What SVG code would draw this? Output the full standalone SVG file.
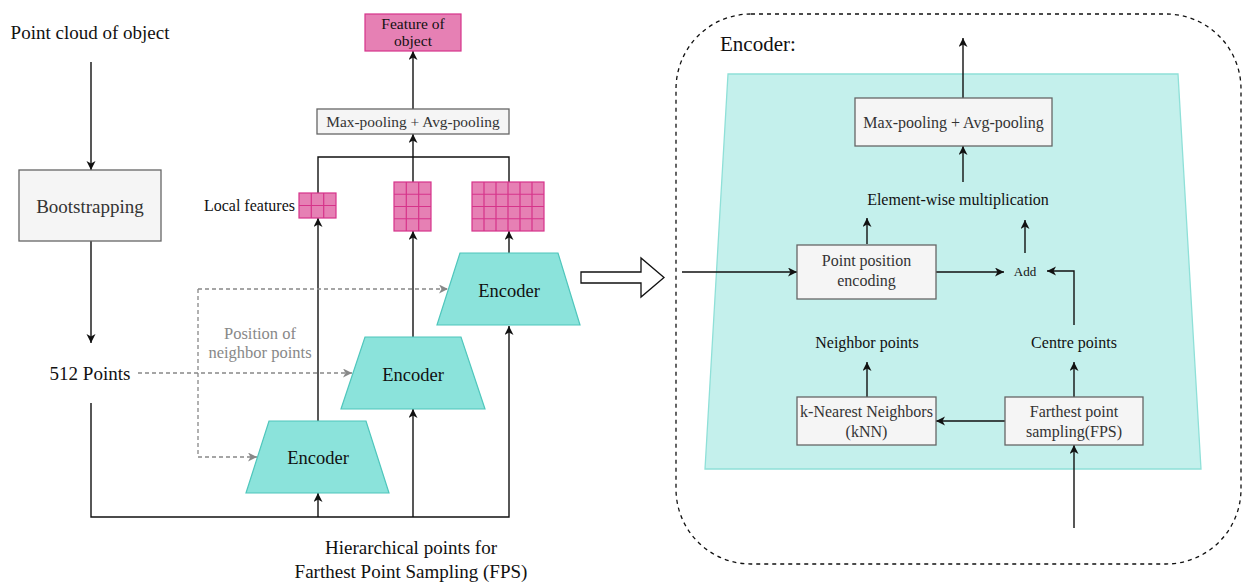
<svg xmlns="http://www.w3.org/2000/svg" width="1242" height="583" viewBox="0 0 1242 583">
<style>
text{font-family:"Liberation Serif","Times New Roman",serif;fill:#111}
.c{text-anchor:middle}
.gt{fill:#333}
.box{fill:#f5f5f5;stroke:#666;stroke-width:1.3}
.enc{fill:#8be3db;stroke:#4fc6bc;stroke-width:1.2}
.pink{fill:#e680b4;stroke:#d6338a;stroke-width:1.2}
.ln{fill:none;stroke:#111;stroke-width:1.4}
.ar{fill:none;stroke:#111;stroke-width:1.4;marker-end:url(#ah)}
.da{fill:none;stroke:#888;stroke-width:1.3;stroke-dasharray:4 3;marker-end:url(#ahg)}
</style>
<defs>
<marker id="ah" markerUnits="userSpaceOnUse" markerWidth="10" markerHeight="10" refX="9" refY="4.5" orient="auto">
<path d="M0,0 L9,4.5 L0,9 L2.5,4.5 Z" fill="#111"/>
</marker>
<marker id="ahg" markerUnits="userSpaceOnUse" markerWidth="10" markerHeight="10" refX="9" refY="4.5" orient="auto">
<path d="M0,0 L9,4.5 L0,9 L2.5,4.5 Z" fill="#888"/>
</marker>
</defs>

<g id="encoder-panel">
<rect x="676" y="14" width="565" height="550" rx="75" ry="75" fill="none" stroke="#111" stroke-width="1.3" stroke-dasharray="4 4"/>
<polygon points="728,74 1178,74 1201,469 705,469" fill="#c4f0ec" stroke="#8fe0d8" stroke-width="1.3"/>
<text x="720" y="51" font-size="21">Encoder:</text>
</g>

<g id="connectors">
<path class="ar" d="M91,62 V170"/>
<path class="ar" d="M91,241 V343"/>
<path class="ar" d="M91,403 V517 H509 V326"/>
<path class="ar" d="M318,517 V493"/>
<path class="ar" d="M413,517 V409"/>
<path class="ar" d="M318,421 V218"/>
<path class="ar" d="M413,337 V231"/>
<path class="ar" d="M509,253 V231"/>
<path class="ln" d="M318,193 V157 H509 V182"/>
<path class="ln" d="M413,182 V157"/>
<path class="ar" d="M413,157 V134"/>
<path class="ar" d="M413,109 V51"/>
<path class="da" d="M138,373 H352"/>
<path class="da" d="M198,289 V457 H257"/>
<path class="da" d="M198,289 H448"/>
<polygon points="581,272 641,272 641,258 664,277.5 641,297 641,283 581,283" fill="#fff" stroke="#111" stroke-width="1.3"/>
<path class="ar" d="M963,98 V38"/>
<path class="ar" d="M963,182 V146"/>
<path class="ar" d="M867,244 V218"/>
<path class="ar" d="M1025,253 V220"/>
<path class="ar" d="M682,272 H797"/>
<path class="ar" d="M936,272 H1004"/>
<path class="ar" d="M1074,325 V271 H1047"/>
<path class="ar" d="M867,397 V362"/>
<path class="ar" d="M1074,397 V362"/>
<path class="ar" d="M1005,421 H936"/>
<path class="ar" d="M1074,528 V445"/>
</g>

<g id="point-cloud"><text x="90" y="39" font-size="19" class="c">Point cloud of object</text></g>

<g id="bootstrapping">
<rect class="box" x="19" y="170" width="142" height="71"/>
<text x="90" y="213" font-size="19" class="c gt">Bootstrapping</text>
</g>

<g id="points512"><text x="90" y="380" font-size="19" class="c">512 Points</text></g>

<g id="hierarchical">
<text x="411" y="554" font-size="19" class="c">Hierarchical points for</text>
<text x="411" y="578" font-size="19" class="c">Farthest Point Sampling (FPS)</text>
</g>

<g id="position-label">
<text x="260" y="339" font-size="16.5" class="c" style="fill:#888">Position of</text>
<text x="260" y="358" font-size="16.5" class="c" style="fill:#888">neighbor points</text>
</g>

<g id="encoder1">
<polygon class="enc" points="269,421 366,421 389,493 246,493"/>
<text x="318" y="464" font-size="18.5" class="c">Encoder</text>
</g>
<g id="encoder2">
<polygon class="enc" points="365,337 461,337 485,409 341,409"/>
<text x="413" y="381" font-size="18.5" class="c">Encoder</text>
</g>
<g id="encoder3">
<polygon class="enc" points="460,253 558,253 580,325 437,325"/>
<text x="509" y="297" font-size="18.5" class="c">Encoder</text>
</g>

<g id="local-features-label"><text x="295" y="211" font-size="16" text-anchor="end">Local features</text></g>

<g id="grid1">
<rect class="pink" x="299" y="193" width="37" height="25"/>
<path class="pink" fill="none" d="M311.3,193 V218 M323.7,193 V218 M299,205.5 H336"/>
</g>
<g id="grid2">
<rect class="pink" x="394" y="182" width="37" height="49"/>
<path class="pink" fill="none" d="M406.3,182 V231 M418.7,182 V231 M394,194.25 H431 M394,206.5 H431 M394,218.75 H431"/>
</g>
<g id="grid3">
<rect class="pink" x="472" y="182" width="72" height="49"/>
<path class="pink" fill="none" d="M484,182 V231 M496,182 V231 M508,182 V231 M520,182 V231 M532,182 V231 M472,194.25 H544 M472,206.5 H544 M472,218.75 H544"/>
</g>

<g id="pooling-left">
<rect class="box" x="317" y="109" width="192" height="25"/>
<text x="413" y="126.5" font-size="15.4" class="c gt">Max-pooling + Avg-pooling</text>
</g>

<g id="feature-object">
<rect class="pink" x="365" y="14" width="96" height="37"/>
<text x="413" y="29" font-size="15.5" class="c">Feature of</text>
<text x="413" y="45.5" font-size="15.5" class="c">object</text>
</g>

<g id="pooling-right">
<rect class="box" x="855" y="98" width="197" height="48"/>
<text x="953.5" y="127.5" font-size="16" class="c gt">Max-pooling + Avg-pooling</text>
</g>

<g id="elementwise"><text x="958" y="205" font-size="16" class="c">Element-wise multiplication</text></g>

<g id="ppe">
<rect class="box" x="797" y="245" width="139" height="54"/>
<text x="866.5" y="266" font-size="16" class="c gt">Point position</text>
<text x="866.5" y="285.5" font-size="16" class="c gt">encoding</text>
</g>

<g id="add"><text x="1025" y="276" font-size="13" class="c">Add</text></g>

<g id="neighbor-points"><text x="867" y="348" font-size="16" class="c">Neighbor points</text></g>
<g id="centre-points"><text x="1074" y="348" font-size="16" class="c">Centre points</text></g>

<g id="knn">
<rect class="box" x="797" y="397" width="139" height="48"/>
<text x="866.5" y="417" font-size="16" class="c gt">k-Nearest Neighbors</text>
<text x="866.5" y="437" font-size="16" class="c gt">(kNN)</text>
</g>

<g id="fps">
<rect class="box" x="1005" y="397" width="138" height="48"/>
<text x="1074" y="417" font-size="16" class="c gt">Farthest point</text>
<text x="1074" y="437" font-size="16" class="c gt">sampling(FPS)</text>
</g>
</svg>
